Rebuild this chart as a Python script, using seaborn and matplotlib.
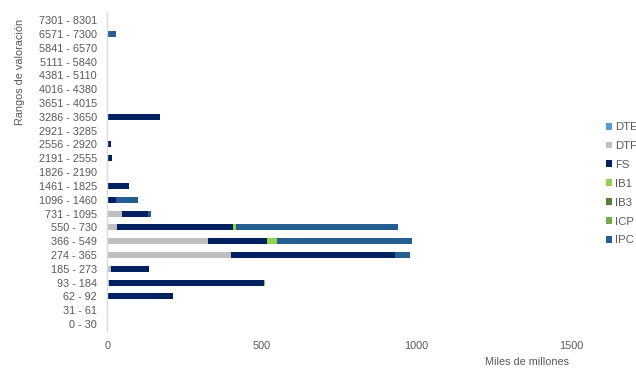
import numpy as np
import pandas as pd
import matplotlib
matplotlib.use("Agg")
import matplotlib.pyplot as plt
import seaborn as sns
from matplotlib.patches import Patch

# Valuation ranges (days), listed top to bottom
rangos = ["7301 - 8301", "6571 - 7300", "5841 - 6570", "5111 - 5840", "4381 - 5110",
          "4016 - 4380", "3651 - 4015", "3286 - 3650", "2921 - 3285", "2556 - 2920",
          "2191 - 2555", "1826 - 2190", "1461 - 1825", "1096 - 1460", "731 - 1095",
          "550 - 730", "366 - 549", "274 - 365", "185 - 273", "93 - 184",
          "62 - 92", "31 - 61", "0 - 30"]

# Amounts per instrument (miles de millones), same order as rangos
DTE = [0, 0, 0, 0, 0, 0, 0, 0, 0, 0, 0, 0, 0, 0, 0, 0, 0, 0, 0, 0, 0, 0, 0]
DTF = [0, 0, 0, 0, 0, 0, 0, 0, 0, 0, 0, 0, 0, 0, 46, 30, 326, 401, 10, 4, 0, 0, 0]
FS  = [0, 0, 0, 0, 0, 0, 0, 171, 0, 10, 15, 0, 71, 27, 86, 377, 191, 530, 123, 502, 213, 0, 0]
IB1 = [0, 0, 0, 0, 0, 0, 0, 0, 0, 0, 0, 0, 0, 0, 0, 8, 30, 0, 0, 3, 0, 0, 0]
IB3 = [0, 0, 0, 0, 0, 0, 0, 0, 0, 0, 0, 0, 0, 0, 0, 0, 0, 0, 0, 0, 0, 0, 0]
ICP = [0, 0, 0, 0, 0, 0, 0, 0, 0, 0, 0, 0, 0, 0, 0, 0, 0, 0, 0, 0, 0, 0, 0]
IPC = [0, 26, 0, 0, 0, 0, 0, 0, 0, 0, 0, 0, 0, 73, 8, 526, 437, 49, 0, 0, 0, 0, 0]

series = ["DTE", "DTF", "FS", "IB1", "IB3", "ICP", "IPC"]
colores = ["#5b9bd5", "#bfbfbf", "#002060", "#92d050", "#548235", "#70ad47", "#255e91"]
valores = [DTE, DTF, FS, IB1, IB3, ICP, IPC]

sns.set_theme(style="white")
plt.rcParams["font.family"] = ["Liberation Sans", "DejaVu Sans"]

df = pd.DataFrame({"rango": rangos})
for nombre, vals in zip(series, valores):
    df[nombre] = vals
# Running totals give the right edge of each stacked segment
acum = df[series].cumsum(axis=1)

fig = plt.figure(figsize=(6.36, 3.69), dpi=100)
ax = fig.add_axes([0.169, 0.103, 0.7288, 0.8613])

gris = "#595959"
fs = 7.8
# Draw from the outermost segment inwards so each shorter one sits on top
for nombre, color in reversed(list(zip(series, colores))):
    sns.barplot(x=acum[nombre], y=df["rango"], order=rangos, orient="h",
                color=color, saturation=1, width=0.43, ax=ax,
                edgecolor="none", linewidth=0)

ax.set_xlim(0, 1500)
ax.set_xticks([0, 500, 1000, 1500])
ax.set_xlabel("")
ax.set_ylabel("")
for s in ["top", "right", "bottom"]:
    ax.spines[s].set_visible(False)
ax.spines["left"].set_color("#d9d9d9")
ax.spines["left"].set_linewidth(1.0)
ax.tick_params(axis="both", length=0, labelsize=fs, labelcolor=gris)
ax.tick_params(axis="x", pad=7.5)
ax.tick_params(axis="y", pad=7.5)
ax.grid(False)

fig.text(0.031, 0.805, "Rangos de valoración", rotation=90, ha="center",
         va="center", fontsize=fs, color=gris)
fig.text(0.894, 0.0198, "Miles de millones", ha="right", va="center",
         fontsize=fs, color=gris)

handles = [Patch(facecolor=c, edgecolor="none", label=n) for n, c in zip(series, colores)]
fig.legend(handles=handles, loc="upper left", bbox_to_anchor=(0.953, 0.669),
           frameon=False, fontsize=8.2, labelcolor=gris, handlelength=0.55,
           handleheight=0.55, handletextpad=0.25, labelspacing=0.78,
           borderaxespad=0, borderpad=0)

fig.savefig("out.png", dpi=100)
